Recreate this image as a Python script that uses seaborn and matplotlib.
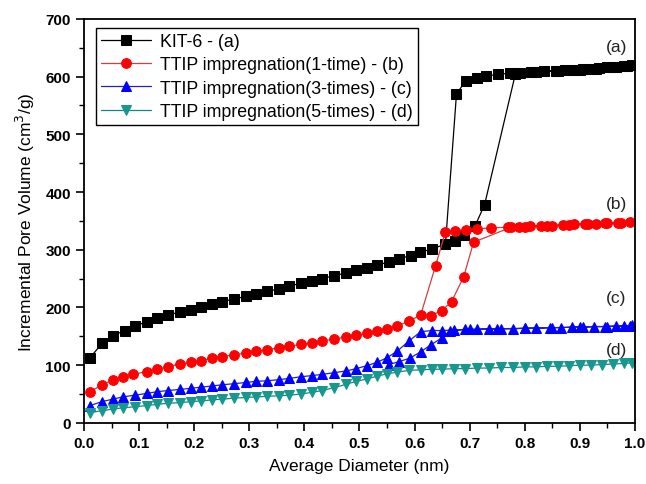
import numpy as np
import pandas as pd
import matplotlib
matplotlib.use("Agg")
import matplotlib.pyplot as plt
import seaborn as sns
from matplotlib.ticker import MultipleLocator

# KIT-6 (a): adsorption branch then desorption branch
a_x = [0.011, 0.033, 0.052, 0.074, 0.092, 0.114, 0.132, 0.152, 0.174, 0.195,
       0.213, 0.233, 0.251, 0.273, 0.294, 0.312, 0.333, 0.354, 0.372, 0.394,
       0.414, 0.432, 0.454, 0.476, 0.494, 0.514, 0.532, 0.553, 0.571, 0.593,
       0.610, 0.631, 0.656, 0.676, 0.693, 0.713, 0.730, 0.752, 0.774, 0.792,
       0.812, 0.834, 0.856, 0.873, 0.890, 0.905, 0.920, 0.935, 0.950, 0.965,
       0.980, 0.995,
       0.985, 0.960, 0.930, 0.900, 0.860, 0.820, 0.783, 0.727, 0.710, 0.690,
       0.674]
a_y = [113, 138, 151, 160, 168, 175, 181, 187, 192, 196,
       201, 206, 210, 215, 219, 223, 228, 232, 237, 242,
       246, 250, 255, 260, 265, 269, 273, 279, 284, 290,
       296, 301, 310, 570, 593, 598, 601, 604, 606, 607,
       608, 609, 610, 611, 612, 613, 614, 615, 616, 617,
       618, 620,
       619, 617, 614, 612, 610, 608, 605, 378, 342, 326,
       316]

# TTIP impregnation 1-time (b)
b_x = [0.011, 0.033, 0.052, 0.070, 0.089, 0.114, 0.132, 0.152, 0.174, 0.195,
       0.213, 0.233, 0.251, 0.273, 0.294, 0.312, 0.333, 0.354, 0.372, 0.394,
       0.414, 0.432, 0.454, 0.476, 0.494, 0.513, 0.532, 0.550, 0.568, 0.590,
       0.611, 0.638, 0.656, 0.674, 0.694, 0.713, 0.738, 0.770, 0.790, 0.810,
       0.830, 0.850, 0.870, 0.890, 0.910, 0.930, 0.950, 0.970, 0.990,
       0.975, 0.945, 0.915, 0.880, 0.840, 0.800, 0.775, 0.707, 0.689, 0.667,
       0.649, 0.629]
b_y = [54, 66, 74, 79, 84, 89, 93, 97, 102, 105,
       108, 112, 115, 118, 121, 124, 127, 130, 133, 136,
       139, 142, 145, 149, 152, 155, 159, 163, 168, 176,
       187, 272, 331, 333, 335, 336, 338, 339, 340, 341,
       342, 342, 343, 344, 345, 345, 346, 347, 348,
       347, 346, 345, 343, 342, 340, 339, 313, 253, 210,
       194, 186]

# TTIP impregnation 3-times (c)
c_x = [0.011, 0.033, 0.052, 0.070, 0.092, 0.114, 0.132, 0.152, 0.174, 0.195,
       0.213, 0.233, 0.251, 0.273, 0.294, 0.312, 0.333, 0.354, 0.372, 0.394,
       0.414, 0.432, 0.454, 0.476, 0.494, 0.513, 0.532, 0.550, 0.568, 0.590,
       0.611, 0.631, 0.650, 0.671, 0.692, 0.713, 0.735, 0.757, 0.779, 0.800,
       0.820, 0.845, 0.865, 0.885, 0.905, 0.925, 0.945, 0.965, 0.980, 0.995,
       0.990, 0.950, 0.900, 0.850, 0.800, 0.750, 0.700, 0.665, 0.649, 0.629,
       0.611, 0.591, 0.571, 0.553]
c_y = [30, 37, 41, 45, 48, 51, 54, 56, 58, 60,
       62, 64, 66, 68, 70, 72, 73, 75, 77, 80,
       82, 84, 87, 90, 94, 99, 105, 113, 124, 142,
       158, 160, 160, 161, 162, 162, 163, 163, 163, 164,
       164, 165, 165, 166, 166, 167, 167, 168, 168, 169,
       168, 167, 166, 165, 164, 163, 162, 160, 147, 135,
       123, 112, 106, 101]

# TTIP impregnation 5-times (d)
d_x = [0.011, 0.033, 0.052, 0.070, 0.092, 0.114, 0.132, 0.152, 0.174, 0.195,
       0.213, 0.233, 0.251, 0.273, 0.294, 0.312, 0.333, 0.354, 0.372, 0.394,
       0.414, 0.432, 0.454, 0.476, 0.494, 0.513, 0.532, 0.550, 0.568, 0.590,
       0.611, 0.631, 0.650, 0.671, 0.692, 0.713, 0.735, 0.757, 0.779, 0.800,
       0.820, 0.840, 0.860, 0.880, 0.900, 0.920, 0.940, 0.960, 0.980, 0.995]
d_y = [18, 21, 24, 26, 28, 30, 32, 34, 35, 37,
       38, 40, 41, 43, 44, 45, 46, 47, 48, 50,
       53, 56, 61, 67, 72, 76, 81, 85, 88, 91,
       92, 93, 93, 94, 94, 95, 95, 96, 96, 97,
       97, 98, 98, 99, 100, 100, 101, 102, 103, 104]

labels = ["KIT-6 - (a)", "TTIP impregnation(1-time) - (b)",
          "TTIP impregnation(3-times) - (c)", "TTIP impregnation(5-times) - (d)"]
tags = ["(a)", "(b)", "(c)", "(d)"]
tag_y = [652, 380, 218, 128]

series = [(a_x, a_y), (b_x, b_y), (c_x, c_y), (d_x, d_y)]
line_colors = ["black", "#d04040", "#2020d0", "#108a80"]
marker_colors = ["black", "#ff0000", "#0000ff", "#17978e"]
markers = ["s", "o", "^", "v"]

sns.set_style("ticks")
plt.rcParams["font.family"] = ["Liberation Sans", "DejaVu Sans"]
plt.rcParams["text.color"] = "black"
plt.rcParams["axes.labelcolor"] = "black"
plt.rcParams["xtick.color"] = "black"
plt.rcParams["ytick.color"] = "black"

fig = plt.figure(figsize=(6.46, 4.85), dpi=100)
ax = fig.add_axes([0.130, 0.126, 0.853, 0.833])

for (xs, ys), lab, lc, mc, mk in zip(series, labels, line_colors, marker_colors, markers):
    df = pd.DataFrame({"x": xs, "y": ys})
    sns.lineplot(data=df, x="x", y="y", sort=False, estimator=None, ax=ax,
                 color=lc, linewidth=0.9, marker=mk, markersize=7,
                 markerfacecolor=mc, markeredgecolor=mc, label=lab)

for t, ty in zip(tags, tag_y):
    ax.text(0.966, ty, t, fontsize=12.5, ha="center", va="center", color="#222222")

ax.set_xlim(0, 1.0)
ax.set_ylim(0, 700)
ax.xaxis.set_major_locator(MultipleLocator(0.1))
ax.xaxis.set_minor_locator(MultipleLocator(0.05))
ax.yaxis.set_major_locator(MultipleLocator(100))
ax.yaxis.set_minor_locator(MultipleLocator(50))
ax.xaxis.set_major_formatter(matplotlib.ticker.FormatStrFormatter("%.1f"))
ax.tick_params(which="major", direction="out", length=6, width=1.2,
               labelsize=11, top=False, right=False)
ax.tick_params(which="minor", direction="out", length=3.5, width=1.0,
               top=False, right=False)
for lbl in ax.get_xticklabels() + ax.get_yticklabels():
    lbl.set_fontweight("bold")
for sp in ax.spines.values():
    sp.set_visible(True)
    sp.set_linewidth(1.3)
    sp.set_color("black")

ax.set_xlabel("Average Diameter (nm)", fontsize=12.5, labelpad=6)
ax.set_ylabel("Incremental Pore Volume (cm$^3$/g)", fontsize=12.5, labelpad=6)

leg = ax.legend(loc="upper left", bbox_to_anchor=(0.022, 0.978), fontsize=12.8,
                frameon=True, fancybox=False, framealpha=1, edgecolor="black",
                handlelength=2.8, labelspacing=0.35, borderpad=0.3,
                handletextpad=0.5, borderaxespad=0)
leg.get_frame().set_linewidth(1.0)

fig.savefig("out.png", dpi=100)
